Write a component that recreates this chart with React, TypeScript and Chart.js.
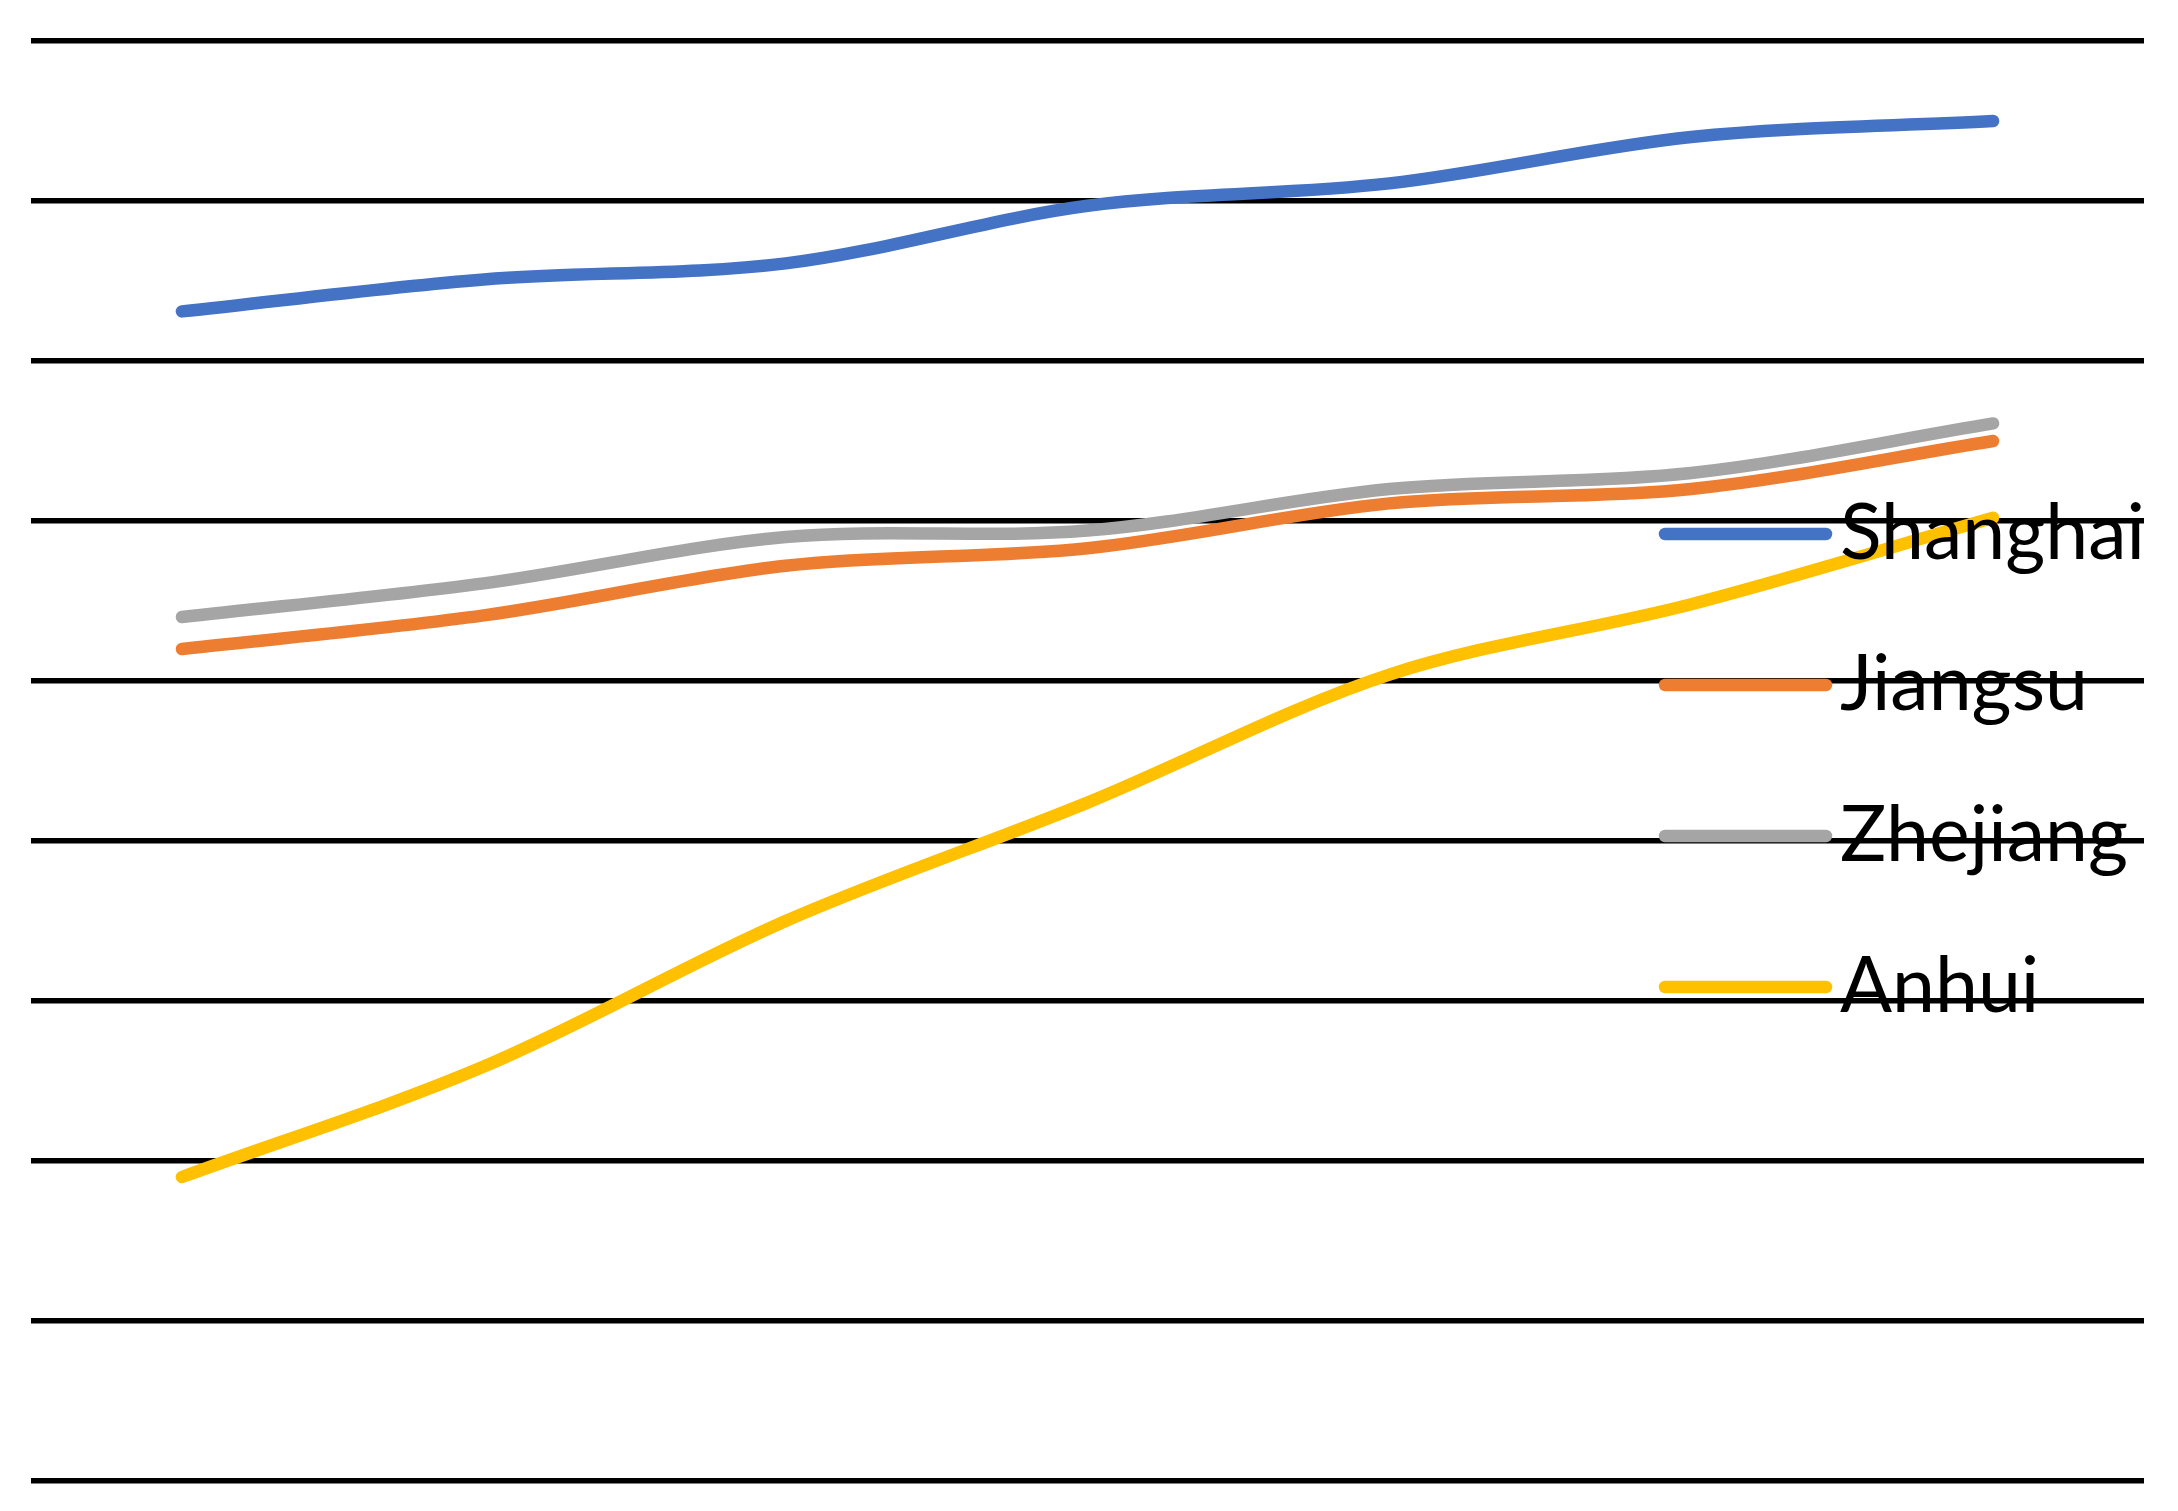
import React, { useEffect, useRef } from 'react';
import { Chart, registerables } from 'chart.js';

Chart.register(...registerables);

const categories = ['2014', '2015', '2016', '2017', '2018', '2019', '2020'];
const seriesNames = ['Shanghai', 'Jiangsu', 'Zhejiang', 'Anhui'];
const shanghai = [73.1, 75.1, 76.1, 79.7, 81.1, 84.0, 85.0];
const jiangsu = [52.0, 54.1, 57.2, 58.3, 61.1, 62.0, 65.0];
const zhejiang = [54.0, 56.1, 59.0, 59.4, 62.0, 63.0, 66.1];
const anhui = [19.0, 25.9, 35.0, 42.4, 50.4, 54.8, 60.2];
const colors = ['#4472C4', '#ED7D31', '#A5A5A5', '#FFC000'];
const yMin = 0;
const yMax = 90;
const yStep = 10;

const W = 2178;
const H = 1511;

const overlayLegend = {
  id: 'overlayLegend',
  afterDatasetsDraw(chart: any) {
    const ctx = chart.ctx;
    const lineX0 = 1665;
    const lineX1 = 1826;
    const textX = 1840;
    const firstY = 534;
    const rowGap = 151;
    ctx.save();
    chart.data.datasets.forEach((ds: any, i: number) => {
      const y = firstY + i * rowGap;
      ctx.beginPath();
      ctx.strokeStyle = ds.borderColor;
      ctx.lineWidth = 12.5;
      ctx.lineCap = 'round';
      ctx.moveTo(lineX0, y);
      ctx.lineTo(lineX1, y);
      ctx.stroke();
      ctx.fillStyle = '#000000';
      ctx.font = '77px Lato, "Noto Sans", sans-serif';
      ctx.textAlign = 'left';
      ctx.textBaseline = 'alphabetic';
      ctx.fillText(ds.label, textX, y + 25);
    });
    ctx.restore();
  },
};

export default function App() {
  const ref = useRef<HTMLCanvasElement | null>(null);

  useEffect(() => {
    if (!ref.current) return;
    const seriesData = [shanghai, jiangsu, zhejiang, anhui];
    const chart = new Chart(ref.current, {
      type: 'line',
      data: {
        labels: categories,
        datasets: seriesNames.map((name, i) => ({
          label: name,
          data: seriesData[i],
          borderColor: colors[i],
          backgroundColor: colors[i],
          borderWidth: 12.5,
          borderCapStyle: 'round',
          borderJoinStyle: 'round',
          pointRadius: 0,
          pointHoverRadius: 0,
          tension: 0.33,
          fill: false,
        })),
      },
      options: {
        responsive: false,
        animation: false,
        devicePixelRatio: 1,
        layout: { padding: { left: 31, right: 34, top: 41, bottom: 30 } },
        plugins: {
          legend: { display: false },
          tooltip: { enabled: false },
          title: { display: false },
        },
        scales: {
          x: {
            type: 'category',
            display: false,
            offset: true,
            grid: { display: false },
          },
          y: {
            min: yMin,
            max: yMax,
            ticks: { display: false, stepSize: yStep },
            border: { display: false },
            grid: { color: '#000000', lineWidth: 5.5, drawTicks: false },
          },
        },
      },
      plugins: [overlayLegend],
    } as any);
    let alive = true;
    if ((document as any).fonts && (document as any).fonts.load) {
      (document as any).fonts.load('77px Lato').then(() => {
        if (alive) chart.update();
      });
    }
    return () => {
      alive = false;
      chart.destroy();
    };
  }, []);

  return (
    <div style={{ position: 'absolute', left: 0, top: 0, width: W, height: H, background: '#ffffff' }}>
      <canvas ref={ref} width={W} height={H} style={{ display: 'block', width: W, height: H }} />
    </div>
  );
}
